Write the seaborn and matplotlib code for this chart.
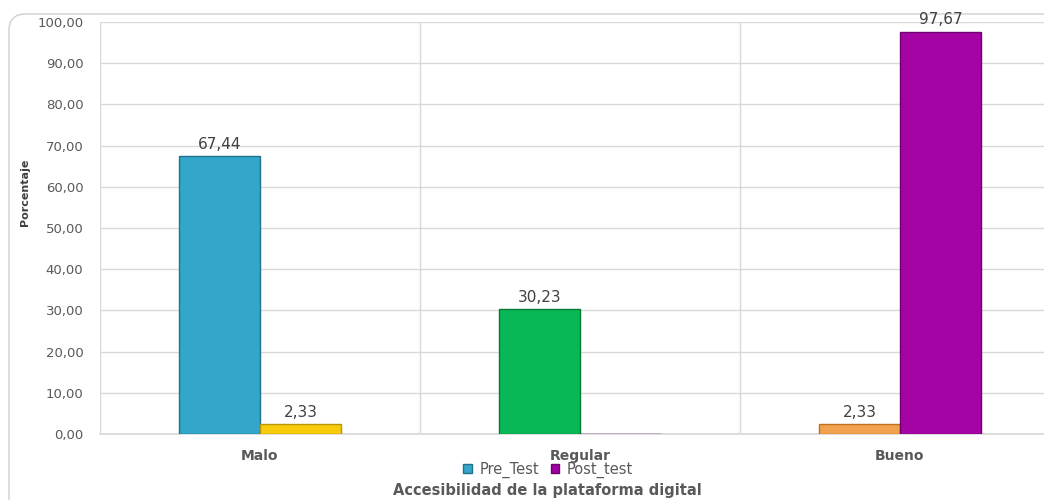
import matplotlib
matplotlib.use("Agg")
import matplotlib.pyplot as plt
import seaborn as sns
import pandas as pd
from matplotlib.patches import FancyBboxPatch, Patch

categories = ["Malo", "Regular", "Bueno"]
pre_test = [67.44, 30.23, 2.33]
post_test = [2.33, 0.0, 97.67]
series = ["Pre_Test", "Post_test"]
y_ticks = [0, 10, 20, 30, 40, 50, 60, 70, 80, 90, 100]

pre_colors = ["#33A7C9", "#08B856", "#F2A24E"]
post_colors = ["#F7CB0A", "#A000A0", "#A304A3"]
edge_pre = ["#23708A", "#067A38", "#C07020"]
edge_post = ["#B8960A", "#700070", "#700070"]

df = pd.DataFrame({
    "cat": categories * 2,
    "val": pre_test + post_test,
    "serie": [series[0]] * 3 + [series[1]] * 3,
})

sns.set_theme(style="white")
plt.rcParams["font.family"] = ["DejaVu Sans"]

fig = plt.figure(figsize=(10.44, 5.0), dpi=100)
# outer rounded frame
frame = FancyBboxPatch((9 / 1044, -0.05), 1.2, (500 - 14) / 500 + 0.05,
                       boxstyle="round,pad=0,rounding_size=0.016",
                       mutation_aspect=1044 / 500,
                       transform=fig.transFigure, facecolor="none",
                       edgecolor="#D0D0D0", linewidth=1.0, zorder=-5)
fig.patches.append(frame)

ax = fig.add_axes([100 / 1044, 66 / 500, 960 / 1044, 412 / 500])
ax.set_facecolor("none")

sns.barplot(data=df, x="cat", y="val", hue="serie", order=categories,
            hue_order=series, width=0.506, ax=ax, legend=False,
            palette=["#33A7C9", "#A000A0"], saturation=1, zorder=3)

containers = ax.containers
for i, p in enumerate(containers[0].patches):
    p.set_facecolor(pre_colors[i]); p.set_edgecolor(edge_pre[i]); p.set_linewidth(1.0)
for i, p in enumerate(containers[1].patches):
    p.set_facecolor(post_colors[i]); p.set_edgecolor(edge_post[i]); p.set_linewidth(1.0)

def fmt(v):
    return f"{v:.2f}".replace(".", ",")

for cont, vals in zip(containers, [pre_test, post_test]):
    labels = [fmt(v) if v > 0 else "" for v in vals]
    ax.bar_label(cont, labels=labels, padding=3, fontsize=11, color="#404040")

ax.set_xlim(-0.5, 2.5)
ax.set_ylim(0, 100)
ax.set_yticks(y_ticks)
ax.set_yticklabels([fmt(v) for v in y_ticks])
ax.tick_params(axis="y", length=0, pad=12, labelsize=9.5, labelcolor="#595959")
ax.tick_params(axis="x", length=0, pad=11, labelsize=10, labelcolor="#595959")
for lbl in ax.get_xticklabels():
    lbl.set_fontweight("bold")

ax.yaxis.grid(True, color="#D9D9D9", linewidth=1.0, zorder=0)
for xv in [-0.5, 0.5, 1.5, 2.5]:
    ax.axvline(xv, color="#D9D9D9", linewidth=1.0, zorder=0)
for s in ["top", "right", "left"]:
    ax.spines[s].set_visible(False)
ax.spines["bottom"].set_color("#D9D9D9")

ax.set_xlabel("Accesibilidad de la plataforma digital", fontsize=10.5,
              fontweight="bold", color="#595959", va="center")
ax.xaxis.set_label_coords((547 - 100) / 960, (434 - 491) / 412)
ax.set_ylabel("Porcentaje", fontsize=8, fontweight="bold", color="#404040",
              family=["Liberation Sans Narrow", "DejaVu Sans"], va="center")
ax.yaxis.set_label_coords((25 - 100) / 960, (434 - 192) / 412)

handles = [Patch(facecolor="#33A7C9", edgecolor="#23708A", label="Pre_Test"),
           Patch(facecolor="#A000A0", edgecolor="#700070", label="Post_test")]
fig.legend(handles=handles, loc="center", bbox_to_anchor=(548 / 1044, 1 - 470 / 500),
           ncol=2, frameon=False, fontsize=10.5, handlelength=0.6, handleheight=0.6,
           handletextpad=0.5, columnspacing=0.8, labelcolor="#595959")

fig.savefig("out.png", dpi=100)
